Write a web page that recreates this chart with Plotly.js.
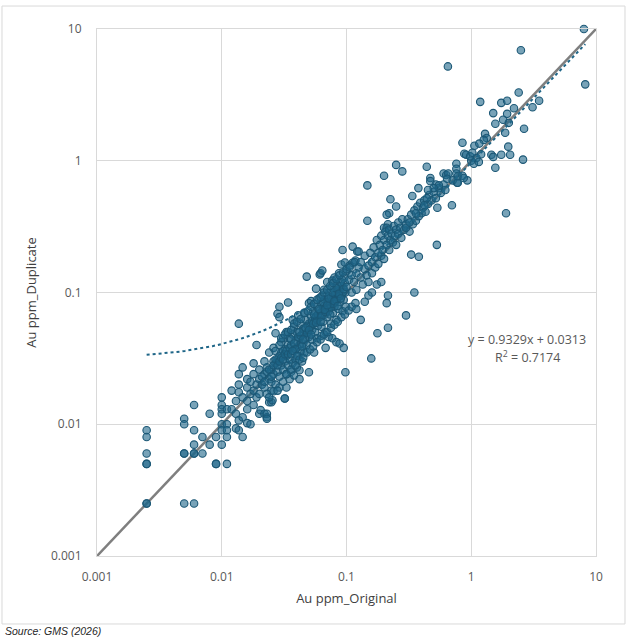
<!DOCTYPE html>
<html>
<head>
<meta charset="utf-8">
<script src="https://cdn.plot.ly/plotly-3.0.1.min.js"></script>
<style>
  html, body { margin: 0; padding: 0; background: #fff; }
  #chart { width: 637px; height: 640px; }
</style>
</head>
<body>
<div id="chart"></div>
<script>
// Au ppm original vs duplicate
const xOriginal = [
  // below 0.01
  0.0025, 0.0025, 0.0025, 0.0025, 0.0025, 0.0025, 0.0025,
  0.005, 0.005, 0.005, 0.005, 0.005,
  0.006, 0.006, 0.006, 0.006, 0.006, 0.006,
  0.007, 0.007, 0.008, 0.008, 0.009, 0.009, 0.009,
  // 0.01 - 0.02
  0.010, 0.010, 0.010, 0.010, 0.010, 0.010, 0.010,
  0.011, 0.011, 0.011, 0.011, 0.011,
  0.012, 0.012, 0.013, 0.013, 0.013,
  0.0137, 0.0137, 0.0137, 0.0137, 0.0137, 0.0137,
  0.0147, 0.0147, 0.0147, 0.0147,
  0.016, 0.016, 0.016, 0.016, 0.016,
  0.017, 0.017, 0.017, 0.018, 0.018, 0.018, 0.018,
  0.019, 0.019, 0.019, 0.020, 0.020, 0.020, 0.020, 0.0205,
  // 0.02 - 0.035
  0.022, 0.023, 0.023, 0.023, 0.024, 0.025, 0.025, 0.0255, 0.026,
  0.021, 0.022, 0.022, 0.023, 0.024, 0.024, 0.025, 0.025, 0.026, 0.026,
  0.027, 0.027, 0.027, 0.027, 0.028, 0.028, 0.028, 0.029, 0.029, 0.029,
  0.029, 0.029, 0.030, 0.030, 0.030, 0.031, 0.031, 0.031,
  0.032, 0.032, 0.032, 0.032, 0.033, 0.033, 0.033, 0.034, 0.034, 0.034,
  0.035, 0.035, 0.035, 0.022, 0.023, 0.024, 0.026, 0.028, 0.029, 0.031, 0.033,
  0.021, 0.022, 0.023, 0.024, 0.025, 0.026, 0.027, 0.028, 0.029, 0.030,
  0.031, 0.032, 0.033, 0.034, 0.035,
  // 0.035 - 0.06
  0.036, 0.036, 0.036, 0.037, 0.037, 0.037, 0.038, 0.038, 0.038, 0.039,
  0.039, 0.040, 0.040, 0.040, 0.041, 0.041, 0.042, 0.042, 0.042, 0.042,
  0.043, 0.043, 0.044, 0.044, 0.045, 0.045, 0.046, 0.046, 0.047, 0.047,
  0.048, 0.048, 0.049, 0.050, 0.050, 0.050, 0.050, 0.052, 0.052, 0.053,
  0.053, 0.054, 0.055, 0.055, 0.056, 0.057, 0.057, 0.058, 0.058, 0.059, 0.060, 0.060,
  // 0.06 - 0.1
  0.061, 0.062, 0.064, 0.062, 0.063, 0.063, 0.064, 0.065, 0.065, 0.066,
  0.067, 0.067, 0.068, 0.069, 0.070, 0.070, 0.071, 0.072, 0.073, 0.074,
  0.075, 0.076, 0.077, 0.077, 0.078, 0.079, 0.080, 0.080, 0.081, 0.082,
  0.083, 0.084, 0.085, 0.086, 0.087, 0.088, 0.089, 0.090, 0.091, 0.092,
  0.093, 0.093, 0.094, 0.095, 0.096, 0.097, 0.098, 0.098, 0.099, 0.100,
  0.063, 0.068, 0.072, 0.077, 0.083, 0.088, 0.095,
  // dense band 0.03 - 0.12
  0.036, 0.038, 0.039, 0.041, 0.043, 0.044, 0.046, 0.048, 0.049, 0.051,
  0.053, 0.054, 0.056, 0.058, 0.059, 0.061, 0.063, 0.066, 0.068, 0.071,
  0.073, 0.075, 0.078, 0.081, 0.083, 0.086, 0.088, 0.091, 0.094, 0.097,
  0.037, 0.040, 0.042, 0.045, 0.047, 0.050, 0.052, 0.055, 0.057, 0.060,
  0.062, 0.065, 0.067, 0.070, 0.072, 0.074, 0.077, 0.080, 0.082, 0.085,
  0.087, 0.090, 0.092, 0.095,
  0.030, 0.032, 0.034, 0.036, 0.038, 0.040, 0.043, 0.046, 0.049, 0.052,
  0.055, 0.058, 0.062, 0.066, 0.070, 0.074, 0.078, 0.083, 0.088, 0.094,
  0.100, 0.106, 0.112, 0.118,
  0.033, 0.036, 0.039, 0.042, 0.045, 0.048, 0.051, 0.054, 0.058, 0.062,
  0.066, 0.070, 0.075, 0.080, 0.085, 0.091, 0.097, 0.104, 0.110, 0.118,
  // 0.1 - 0.3
  0.112, 0.122, 0.116, 0.106, 0.125, 0.130, 0.147, 0.147, 0.158, 0.177,
  0.215, 0.200, 0.225, 0.250, 0.220, 0.210, 0.200, 0.215, 0.210, 0.215,
  0.210, 0.250, 0.280, 0.300,
  0.100, 0.105, 0.110, 0.110, 0.115, 0.120, 0.120, 0.125, 0.130, 0.130,
  0.135, 0.140, 0.140, 0.145, 0.150, 0.150, 0.155, 0.160, 0.160, 0.165,
  0.170, 0.170, 0.175, 0.180, 0.180, 0.185, 0.190, 0.190, 0.195, 0.200,
  0.200, 0.205, 0.210, 0.215, 0.220, 0.220, 0.225, 0.230, 0.235, 0.240,
  0.245, 0.250, 0.250, 0.260, 0.260, 0.270, 0.275, 0.280, 0.290, 0.300,
  0.120, 0.140, 0.160, 0.175, 0.190, 0.150,
  // 0.3 - 1
  0.330, 0.380, 0.350, 0.377, 0.337, 0.440, 0.470, 0.600, 0.630, 0.655,
  0.535, 0.530, 0.700, 0.650, 0.760, 0.760, 0.760, 0.780, 0.770, 0.850,
  0.930, 0.870, 0.640, 0.710, 0.780, 0.850, 0.880, 0.910,
  0.310, 0.320, 0.330, 0.340, 0.350, 0.360, 0.370, 0.380, 0.390, 0.400,
  0.410, 0.420, 0.430, 0.450, 0.460, 0.480, 0.500, 0.520, 0.550, 0.570,
  0.600, 0.620, 0.300, 0.320, 0.360, 0.420, 0.440, 0.470, 0.520, 0.550, 0.500, 0.450,
  // above 1
  8.0, 2.5, 8.2, 2.4, 1.18, 1.74, 1.94, 3.5, 3.1, 2.2,
  1.5, 1.94, 1.8, 2.0, 1.56, 2.65, 1.87, 1.29, 1.33, 1.26,
  1.06, 1.16, 1.98, 1.74, 2.05, 1.45, 1.5, 2.6, 1.56, 1.9,
  1.0, 1.05, 1.1, 1.15, 1.2, 0.98, 1.02
];

const yDuplicate = [
  // below 0.01
  0.009, 0.008, 0.006, 0.005, 0.005, 0.0025, 0.0025,
  0.011, 0.010, 0.006, 0.006, 0.0025,
  0.014, 0.009, 0.007, 0.006, 0.006, 0.0025,
  0.008, 0.006, 0.012, 0.007, 0.008, 0.005, 0.005,
  // 0.01 - 0.02
  0.016, 0.014, 0.013, 0.012, 0.010, 0.009, 0.007,
  0.013, 0.010, 0.009, 0.008, 0.005,
  0.018, 0.013, 0.0093, 0.012, 0.015,
  0.058, 0.024, 0.020, 0.0175, 0.0107, 0.009,
  0.0113, 0.008, 0.027, 0.016,
  0.015, 0.013, 0.0102, 0.019, 0.022,
  0.010, 0.017, 0.021, 0.029, 0.024, 0.018, 0.014,
  0.040, 0.020, 0.016, 0.012, 0.017, 0.022, 0.026, 0.0128,
  // 0.02 - 0.035
  0.012, 0.0113, 0.012, 0.011, 0.0147, 0.018, 0.0147, 0.0152, 0.0178,
  0.020, 0.024, 0.019, 0.027, 0.022, 0.035, 0.021, 0.026, 0.038, 0.024,
  0.049, 0.036, 0.029, 0.020, 0.025, 0.031, 0.069, 0.078, 0.065, 0.019,
  0.023, 0.033, 0.028, 0.042, 0.035, 0.045, 0.021, 0.026,
  0.0157, 0.0157, 0.030, 0.037, 0.019, 0.024, 0.033, 0.084, 0.040, 0.028,
  0.022, 0.031, 0.045, 0.030, 0.017, 0.016, 0.030, 0.018, 0.040, 0.036, 0.050,
  0.023, 0.021, 0.025, 0.026, 0.023, 0.028, 0.031, 0.028, 0.030, 0.032,
  0.031, 0.034, 0.036, 0.034, 0.038,
  // 0.035 - 0.06
  0.025, 0.034, 0.040, 0.062, 0.029, 0.048, 0.0235, 0.036, 0.055, 0.031,
  0.043, 0.027, 0.038, 0.050, 0.067, 0.033, 0.0257, 0.022, 0.045, 0.040,
  0.036, 0.058, 0.030, 0.048, 0.041, 0.053, 0.035, 0.070, 0.044, 0.062,
  0.132, 0.040, 0.050, 0.0248, 0.083, 0.046, 0.058, 0.086, 0.066, 0.052,
  0.044, 0.072, 0.060, 0.035, 0.050, 0.107, 0.066, 0.078, 0.045, 0.056, 0.090, 0.064,
  // 0.06 - 0.1
  0.137, 0.140, 0.147, 0.070, 0.055, 0.082, 0.095, 0.060, 0.075, 0.105,
  0.068, 0.088, 0.050, 0.078, 0.120, 0.065, 0.092, 0.072, 0.100, 0.082,
  0.058, 0.110, 0.123, 0.088, 0.070, 0.095, 0.078, 0.130, 0.100, 0.086,
  0.062, 0.115, 0.092, 0.075, 0.140, 0.104, 0.085, 0.120, 0.163, 0.095,
  0.210, 0.072, 0.110, 0.088, 0.130, 0.169, 0.0248, 0.100, 0.078, 0.145,
  0.047, 0.038, 0.046, 0.045, 0.042, 0.041, 0.038,
  // dense band 0.03 - 0.12
  0.044, 0.041, 0.037, 0.046, 0.047, 0.039, 0.052, 0.049, 0.056, 0.055,
  0.061, 0.058, 0.064, 0.062, 0.068, 0.073, 0.066, 0.079, 0.071, 0.085,
  0.076, 0.092, 0.082, 0.097, 0.088, 0.105, 0.094, 0.112, 0.101, 0.118,
  0.036, 0.033, 0.050, 0.044, 0.054, 0.052, 0.048, 0.068, 0.059, 0.075,
  0.060, 0.085, 0.074, 0.080, 0.090, 0.068, 0.100, 0.086, 0.108, 0.079,
  0.098, 0.090, 0.125, 0.106,
  0.045, 0.048, 0.050, 0.052, 0.058, 0.060, 0.063, 0.070, 0.072, 0.078,
  0.082, 0.088, 0.092, 0.100, 0.105, 0.112, 0.118, 0.126, 0.135, 0.142,
  0.150, 0.160, 0.168, 0.175,
  0.024, 0.026, 0.028, 0.031, 0.032, 0.035, 0.037, 0.039, 0.042, 0.044,
  0.048, 0.050, 0.054, 0.057, 0.060, 0.065, 0.068, 0.073, 0.078, 0.083,
  // 0.1 - 0.3
  0.223, 0.205, 0.170, 0.155, 0.205, 0.062, 0.650, 0.350, 0.0316, 0.049,
  0.054, 0.770, 0.510, 0.450, 0.400, 0.390, 0.310, 0.330, 0.310, 0.095,
  0.083, 0.930, 0.830, 0.067,
  0.110, 0.125, 0.100, 0.135, 0.120, 0.140, 0.105, 0.155, 0.130, 0.170,
  0.115, 0.150, 0.190, 0.135, 0.160, 0.120, 0.200, 0.170, 0.140, 0.220,
  0.185, 0.155, 0.250, 0.200, 0.165, 0.230, 0.270, 0.190, 0.210, 0.250,
  0.180, 0.290, 0.230, 0.270, 0.210, 0.300, 0.250, 0.280, 0.240, 0.320,
  0.270, 0.300, 0.230, 0.340, 0.280, 0.310, 0.260, 0.360, 0.300, 0.330,
  0.075, 0.085, 0.100, 0.115, 0.120, 0.095,
  // 0.3 - 1
  0.194, 0.187, 0.100, 0.620, 0.540, 0.900, 0.740, 0.800, 0.780, 0.800,
  0.440, 0.230, 0.460, 5.200, 0.950, 0.870, 0.800, 0.760, 0.680, 0.770,
  0.710, 0.740, 0.730, 0.710, 0.680, 1.370, 1.130, 1.110,
  0.360, 0.290, 0.390, 0.330, 0.420, 0.350, 0.450, 0.380, 0.480, 0.400,
  0.440, 0.500, 0.410, 0.470, 0.550, 0.500, 0.580, 0.520, 0.620, 0.570,
  0.660, 0.600, 0.310, 0.340, 0.400, 0.460, 0.520, 0.700, 0.660, 0.650, 0.620, 0.600,
  // above 1
  10.0, 6.9, 3.8, 3.3, 2.8, 2.75, 2.85, 2.85, 2.55, 2.5,
  2.3, 2.27, 2.05, 1.94, 1.91, 1.75, 1.63, 1.60, 1.49, 1.44,
  1.30, 1.35, 1.28, 1.11, 1.11, 1.11, 1.07, 1.02, 0.885, 0.40,
  1.0, 0.95, 1.05, 0.98, 1.12, 1.08, 1.15
];

// 1:1 reference line
const oneToOne = [0.001, 10];

// linear trendline shown on the chart
const trendSlope = 0.9329;
const trendIntercept = 0.0313;
const trendR2 = 0.7174;

const tickVals = [0.001, 0.01, 0.1, 1, 10];
const tickText = ['0.001', '0.01', '0.1', '1', '10'];

// trendline across the data range, sampled evenly in log space
const xMin = Math.min(...xOriginal);
const xMax = Math.max(...xOriginal);
const trendX = [];
const trendY = [];
for (let i = 0; i <= 80; i++) {
  const x = Math.pow(10, Math.log10(xMin) + (Math.log10(xMax) - Math.log10(xMin)) * i / 80);
  trendX.push(x);
  trendY.push(trendSlope * x + trendIntercept);
}

const gridColor = '#d9d9d9';
const tickFont = { family: 'Open Sans, Noto Sans, sans-serif', size: 12, color: '#595959' };
const titleFont = { family: 'Open Sans, Noto Sans, sans-serif', size: 13, color: '#404040' };
const eqFont = { family: 'Open Sans, Noto Sans, sans-serif', size: 12.5, color: '#595959' };

const data = [
  {
    x: oneToOne,
    y: oneToOne,
    mode: 'lines',
    type: 'scatter',
    line: { color: '#7f7f7f', width: 2.5 },
    hoverinfo: 'skip',
    showlegend: false,
  },
  {
    x: xOriginal,
    y: yDuplicate,
    mode: 'markers',
    type: 'scatter',
    marker: {
      size: 7.5,
      color: 'rgba(30, 102, 136, 0.6)',
      line: { color: '#1b5775', width: 1.1 },
    },
    cliponaxis: false,
    showlegend: false,
  },
  {
    x: trendX,
    y: trendY,
    mode: 'lines',
    type: 'scatter',
    line: { color: '#1f6688', width: 2, dash: 'dot' },
    hoverinfo: 'skip',
    showlegend: false,
  },
];

const axisBase = {
  type: 'log',
  range: [-3, 1],
  tickvals: tickVals,
  ticktext: tickText,
  tickfont: tickFont,
  showgrid: true,
  gridcolor: gridColor,
  gridwidth: 1,
  zeroline: false,
  showline: true,
  linecolor: gridColor,
  linewidth: 1,
  mirror: true,
  ticks: '',
  automargin: false,
  fixedrange: true,
};

const layout = {
  width: 637,
  height: 640,
  margin: { l: 97, r: 41, t: 29, b: 84 },
  paper_bgcolor: '#ffffff',
  plot_bgcolor: '#ffffff',
  xaxis: Object.assign({}, axisBase, {
    ticklabelstandoff: 10,
    title: { text: 'Au ppm_Original', font: titleFont, standoff: 9 },
  }),
  yaxis: Object.assign({}, axisBase, {
    ticklabelstandoff: 12,
    title: { text: 'Au ppm_Duplicate', font: titleFont, standoff: 11 },
  }),
  annotations: [
    {
      xref: 'paper', yref: 'paper',
      x: 0.862, y: 0.410,
      xanchor: 'center', yanchor: 'middle',
      text: 'y = ' + trendSlope + 'x + ' + trendIntercept,
      showarrow: false,
      font: eqFont,
    },
    {
      xref: 'paper', yref: 'paper',
      x: 0.862, y: 0.378,
      xanchor: 'center', yanchor: 'middle',
      text: 'R<sup>2</sup> = ' + trendR2,
      showarrow: false,
      font: eqFont,
    },
    {
      xref: 'paper', yref: 'paper',
      x: -0.188, y: -0.143,
      xanchor: 'left', yanchor: 'middle',
      text: '<i>Source: GMS (2026)</i>',
      showarrow: false,
      font: { family: 'Liberation Sans, Arial, sans-serif', size: 10.5, color: '#262626' },
    },
  ],
  shapes: [
    {
      type: 'rect', xref: 'paper', yref: 'paper',
      x0: -0.1904, x1: 1.0581, y0: -0.129, y1: 1.0436,
      line: { color: gridColor, width: 1 },
      fillcolor: 'rgba(0,0,0,0)',
      layer: 'below',
    },
  ],
};

Plotly.newPlot('chart', data, layout, { displayModeBar: false, staticPlot: true });
</script>
</body>
</html>
